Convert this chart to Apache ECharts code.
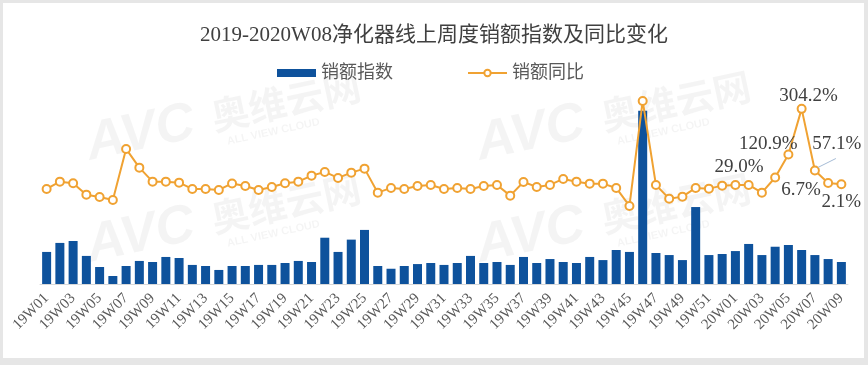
<!DOCTYPE html>
<html>
<head>
<meta charset="utf-8">
<script src="https://cdn.jsdelivr.net/npm/echarts@6/dist/echarts.min.js"></script>
<style>
html,body{margin:0;padding:0;background:#e6e6e6;}
#chart{width:868px;height:365px;}
</style>
</head>
<body>
<div id="chart"></div>
<script>
const categories = [
 '19W01','19W02','19W03','19W04','19W05','19W06','19W07','19W08','19W09','19W10',
 '19W11','19W12','19W13','19W14','19W15','19W16','19W17','19W18','19W19','19W20',
 '19W21','19W22','19W23','19W24','19W25','19W26','19W27','19W28','19W29','19W30',
 '19W31','19W32','19W33','19W34','19W35','19W36','19W37','19W38','19W39','19W40',
 '19W41','19W42','19W43','19W44','19W45','19W46','19W47','19W48','19W49','19W50',
 '19W51','19W52','20W01','20W02','20W03','20W04','20W05','20W06','20W07','20W08','20W09'
];
const salesIndex = [
 18.5,23.7,24.8,16.2,9.8,4.6,10.4,13.3,12.7,15.6,
 15.0,11.0,10.4,8.1,10.4,10.4,11.0,11.0,12.1,13.3,
 12.7,26.7,18.5,25.6,31.2,10.4,8.8,10.4,11.5,12.1,
 11.0,12.1,16.2,12.1,12.7,11.0,15.6,12.1,14.4,12.7,
 12.1,15.6,13.8,19.6,18.5,100,17.9,16.7,13.8,44.4,
 16.7,17.3,19.0,23.1,16.7,21.5,22.5,19.6,16.7,14.4,12.7
];
const salesYoY = [
 -16.8,12.4,6.0,-39.7,-48.9,-61.0,143.6,68.6,12.4,12.4,
 8.4,-16.8,-16.8,-20.9,5.2,-4.8,-20.9,-8.8,6.0,12.4,
 36.5,51.3,27.3,48.5,64.6,-31.7,-12.8,-16.8,-4.8,-0.8,
 -16.8,-12.8,-16.8,-4.8,-0.8,-43.7,11.2,-8.8,-0.8,23.3,
 12.4,4.4,4.4,-12.8,-85.0,336.1,-0.8,-55.8,-47.7,-12.8,
 -15.6,-3.6,-0.8,-0.8,-31.7,29.0,120.9,304.2,57.1,6.7,2.1
];
const labelledFrom = 55;
const leaderIndex = 58;
const seriesNames = ['销额指数','销额同比'];
const titleText = '2019-2020W08净化器线上周度销额指数及同比变化';
const watermarkMain = 'AVC';
const watermarkCn = '奥维云网';
const watermarkEn = 'ALL VIEW CLOUD';

// label offsets (style only)
const labelShift = {55:[-36,9],56:[-20,9],57:[7,7],58:[22,-7],59:[-27,26],60:[0,37]};

const serif = '"Liberation Serif","Noto Sans CJK SC",serif';

function watermark(x, y){
  const c = 'rgba(0,0,0,0.045)';
  return {type:'group', x:x, y:y, rotation:0.21, silent:true, z:-5, children:[
    {type:'text', x:0, y:2, style:{text:watermarkMain, fill:c,
      font:'italic bold 54px "Liberation Sans", sans-serif', textVerticalAlign:'bottom'}},
    {type:'text', x:128, y:-8, style:{text:watermarkCn, fill:c,
      font:'bold 38px "Noto Sans CJK SC", sans-serif', textVerticalAlign:'bottom'}},
    {type:'text', x:138, y:6, style:{text:watermarkEn, fill:c,
      font:'bold 11px "Liberation Sans", sans-serif', textVerticalAlign:'bottom'}}
  ]};
}

const chart = echarts.init(document.getElementById('chart'));
const baseGraphic = [
  {type:'rect',z:-10,silent:true,shape:{x:3,y:3,width:861,height:355},style:{fill:'#ffffff'}},
  watermark(92,170), watermark(92,272), watermark(482,170), watermark(482,272)
];
chart.setOption({
  animation:false,
  backgroundColor:'transparent',
  graphic:baseGraphic,
  title:{text:titleText,left:'center',top:20,
    textStyle:{fontFamily:serif,fontSize:21,fontWeight:'normal',color:'#404040'}},
  legend:{left:272,top:59,itemWidth:39,itemHeight:8,itemGap:74,
    textStyle:{fontFamily:serif,fontSize:18,color:'#595959'},
    data:[{name:seriesNames[0],icon:'rect'},{name:seriesNames[1]}]},
  grid:{left:40,right:20,top:76,bottom:81,containLabel:false},
  xAxis:{type:'category',data:categories,
    axisLine:{lineStyle:{color:'#d9d9d9'}},axisTick:{show:false},
    axisLabel:{interval:1,rotate:45,margin:12,fontFamily:serif,fontSize:15,color:'#595959'}},
  yAxis:[
    {type:'value',min:0,max:120,show:false,splitLine:{show:false}},
    {type:'value',min:-398,max:436,show:false,splitLine:{show:false}}
  ],
  series:[
    {name:seriesNames[0],type:'bar',yAxisIndex:0,barWidth:9,
     itemStyle:{color:'#0E529C'},data:salesIndex},
    {name:seriesNames[1],type:'line',yAxisIndex:1,symbol:'circle',symbolSize:8,
     lineStyle:{color:'#F0A232',width:2},
     itemStyle:{color:'#ffffff',borderColor:'#F0A232',borderWidth:2},
     label:{show:false,position:'top',fontFamily:serif,fontSize:19,color:'#404040',
       formatter:p=>p.value.toFixed(1)+'%'},
     labelLayout:function(p){
       const s=labelShift[p.dataIndex];
       return s?{dx:s[0],dy:s[1]}:{};
     },
     data:salesYoY.map((v,i)=> i>=labelledFrom ? {value:v,label:{show:true}} : v)}
  ]
});

// leader line for the moved 57.1% label, anchored on the library's own pixel of that point
const p = chart.convertToPixel({xAxisIndex:0,yAxisIndex:1},[leaderIndex, salesYoY[leaderIndex]]);
chart.setOption({graphic:baseGraphic.concat([
  {type:'line',silent:true,z:10,shape:{x1:p[0]+3,y1:p[1]-3,x2:p[0]+21,y2:p[1]-12},
   style:{stroke:'#a6bcd6',lineWidth:1}}
])});
</script>
</body>
</html>
